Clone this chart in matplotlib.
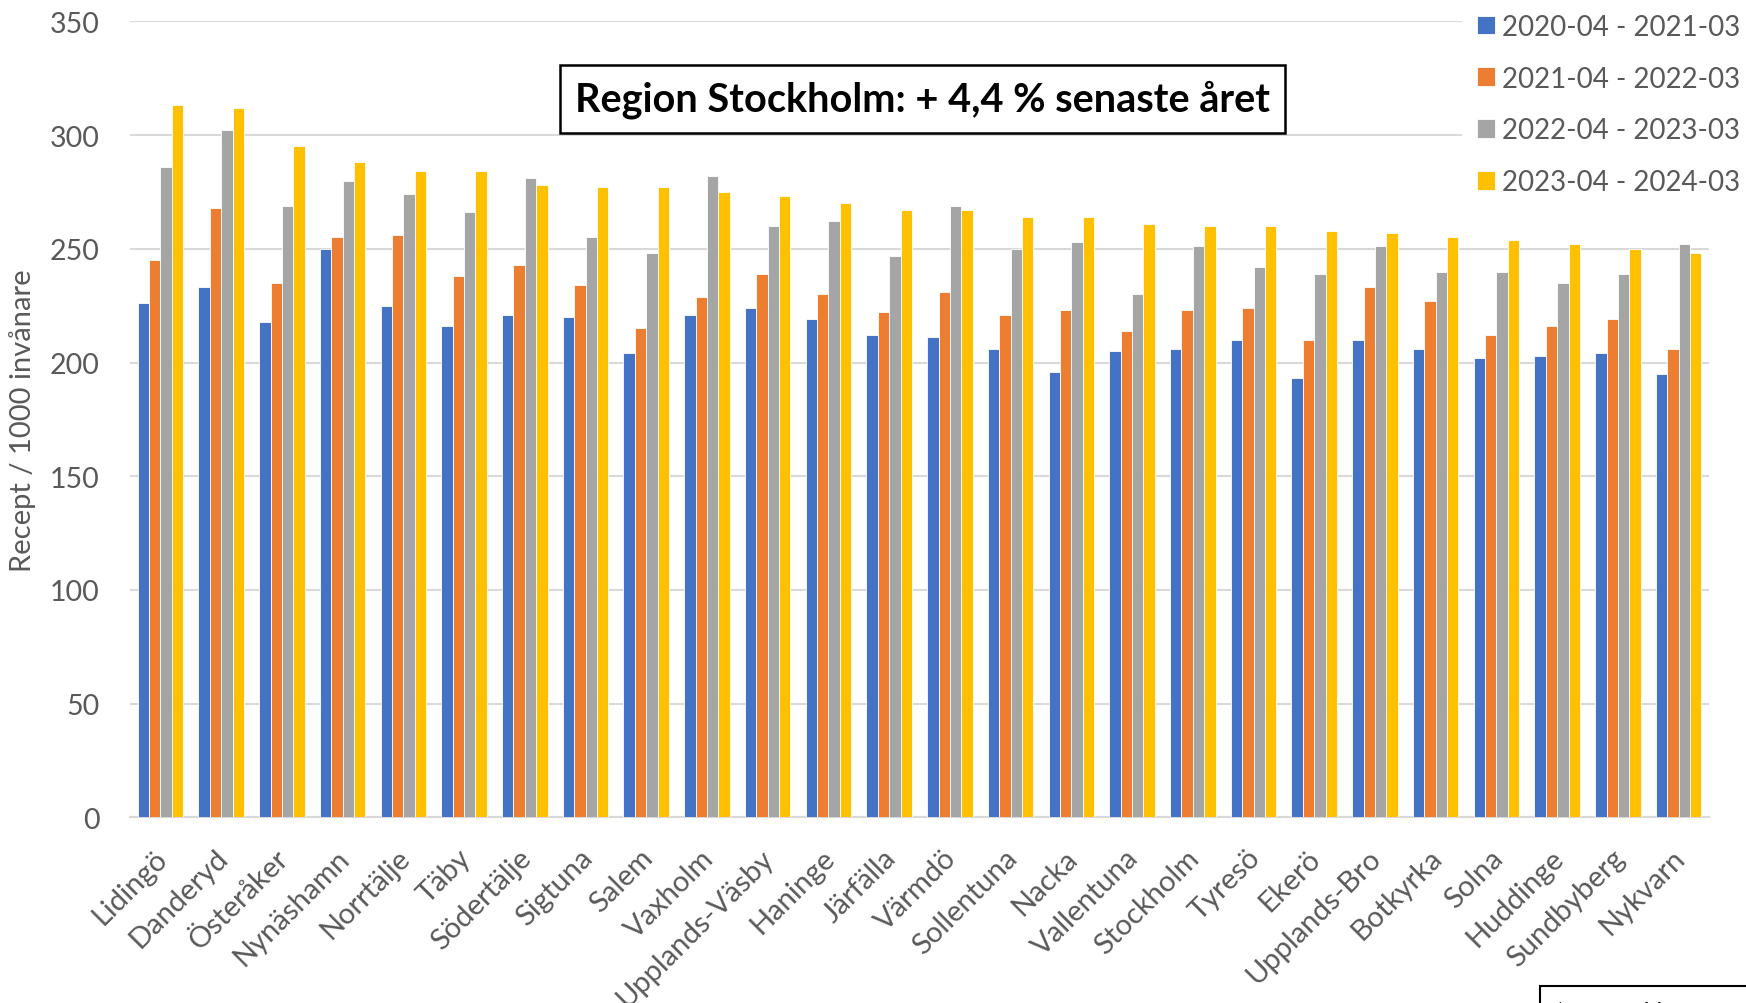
import numpy as np
import matplotlib
matplotlib.use("Agg")
import matplotlib.pyplot as plt
from matplotlib.transforms import ScaledTranslation

plt.rcParams['font.family'] = ['Lato', 'DejaVu Sans']

kommuner = ["Lidingö", "Danderyd", "Österåker", "Nynäshamn", "Norrtälje", "Täby",
            "Södertälje", "Sigtuna", "Salem", "Vaxholm", "Upplands-Väsby", "Haninge",
            "Järfälla", "Värmdö", "Sollentuna", "Nacka", "Vallentuna", "Stockholm",
            "Tyresö", "Ekerö", "Upplands-Bro", "Botkyrka", "Solna", "Huddinge",
            "Sundbyberg", "Nykvarn"]

period_2020 = [226, 233, 218, 250, 225, 216, 221, 220, 204, 221, 224, 219, 212,
               211, 206, 196, 205, 206, 210, 193, 210, 206, 202, 203, 204, 195]
period_2021 = [245, 268, 235, 255, 256, 238, 243, 234, 215, 229, 239, 230, 222,
               231, 221, 223, 214, 223, 224, 210, 233, 227, 212, 216, 219, 206]
period_2022 = [286, 302, 269, 280, 274, 266, 281, 255, 248, 282, 260, 262, 247,
               269, 250, 253, 230, 251, 242, 239, 251, 240, 240, 235, 239, 252]
period_2023 = [313, 312, 295, 288, 284, 284, 278, 277, 277, 275, 273, 270, 267,
               267, 264, 264, 261, 260, 260, 258, 257, 255, 254, 252, 250, 248]

serier = [
    ("2020-04 - 2021-03", period_2020, "#4472C4"),
    ("2021-04 - 2022-03", period_2021, "#ED7D31"),
    ("2022-04 - 2023-03", period_2022, "#A5A5A5"),
    ("2023-04 - 2024-03", period_2023, "#FFC000"),
]

textfarg = "#595959"

fig = plt.figure(figsize=(17.46, 10.04), dpi=100)
ax = fig.add_axes([0.0745, 0.1848, 0.9043, 0.793])

x = np.arange(len(kommuner))
bredd = 0.1875
for i, (namn, varden, farg) in enumerate(serier):
    ax.bar(x + (i - 1.5) * bredd, varden, bredd, color=farg, label=namn,
           edgecolor="white", linewidth=0.6, zorder=3)

ax.set_ylim(0, 350)
ax.set_xlim(-0.5, len(kommuner) - 0.5)
ax.set_yticks(range(0, 351, 50))
ax.yaxis.grid(True, color="#d9d9d9", linewidth=1.5, zorder=0)
ax.set_axisbelow(True)
for s in ["left", "right", "top"]:
    ax.spines[s].set_visible(False)
ax.spines["bottom"].set_color("#d9d9d9")
ax.spines["bottom"].set_linewidth(1.5)
ax.tick_params(axis="both", length=0, labelsize=20.5, colors=textfarg)
ax.tick_params(axis="y", pad=22)
ax.tick_params(axis="x", pad=30)

ax.set_xticks(x)
ax.set_xticklabels(kommuner, rotation=45, ha="right", va="baseline",
                   rotation_mode="anchor", fontsize=21)
# flytta etiketterna lite åt höger
skift = ScaledTranslation(0.08, 0, fig.dpi_scale_trans)
for lbl in ax.get_xticklabels():
    lbl.set_transform(lbl.get_transform() + skift)

ax.set_ylabel("Recept / 1000 invånare", fontsize=21, color=textfarg, labelpad=10)

ax.text(0.502, 0.9024, "Region Stockholm: + 4,4 % senaste året", transform=ax.transAxes,
        ha="center", va="center", fontsize=28.5, fontweight="bold", color="black",
        bbox=dict(boxstyle="square,pad=0.38", facecolor="white", edgecolor="black",
                  linewidth=1.8), zorder=5)

leg = fig.legend(loc="upper left", bbox_to_anchor=(1462 / 1746, 1.0), fontsize=20,
                 frameon=True, facecolor="white", edgecolor="none", framealpha=1,
                 handlelength=0.66, handleheight=0.66, handletextpad=0.25,
                 labelspacing=0.93, borderpad=0.53, borderaxespad=0)
for t in leg.get_texts():
    t.set_color(textfarg)

fig.text(0.8906, -0.0094, "* J01 exkl. metenamin", fontsize=18, color="black",
         ha="left", va="center",
         bbox=dict(boxstyle="square,pad=0.6", facecolor="white", edgecolor="black",
                   linewidth=1.5))

fig.savefig("out.png", dpi=100)
